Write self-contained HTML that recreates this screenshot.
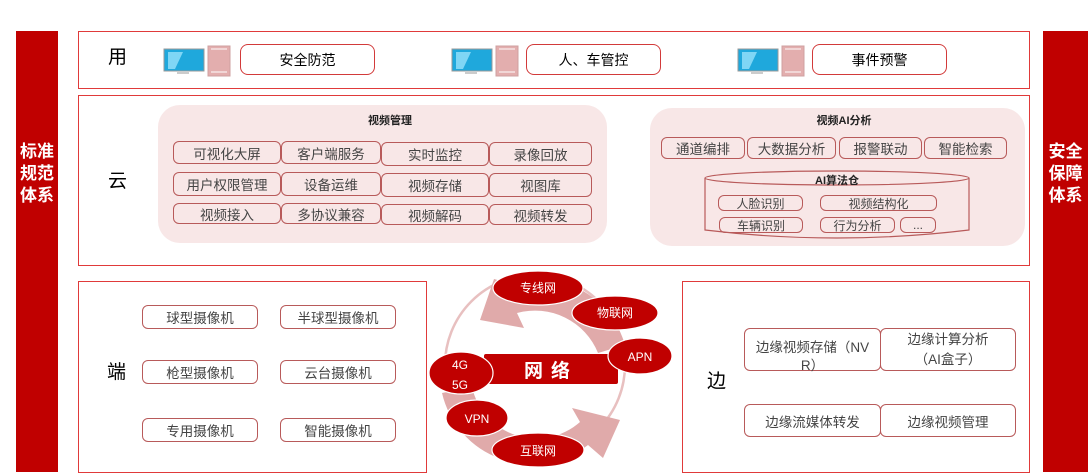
<!DOCTYPE html>
<html><head><meta charset="utf-8">
<style>
*{margin:0;padding:0;box-sizing:border-box}
body{width:1091px;height:476px;background:#fff;position:relative;overflow:hidden;font-family:"Liberation Sans","Noto Sans CJK SC",sans-serif;color:#333}
.a{position:absolute}
.bar{background:#c00000;color:#fff;font-weight:bold;font-size:17px;line-height:22px;text-align:center;padding-top:110px}
.sec{border:1.5px solid #e03a3a}
.lbl{font-size:19px;color:#000}
.btn{border:1.3px solid #d23a3a;border-radius:8px;background:#fff;display:flex;align-items:center;justify-content:center;font-size:14px;color:#000}
.c{border:1.2px solid #b85a5a;border-radius:6px;display:flex;align-items:center;justify-content:center;font-size:13.5px;color:#444;background:transparent}
.s{font-size:12px}
.panel{background:#f8e7e7;border-radius:22px}
.t{font-size:11px;font-weight:bold;color:#222;text-align:center}
</style></head><body>
<div class="a bar" style="left:16px;top:31px;width:42px;height:441px">标准<br>规范<br>体系</div>
<div class="a bar" style="left:1043px;top:31px;width:45px;height:441px">安全<br>保障<br>体系</div>

<!-- 用 -->
<div class="a sec" style="left:78px;top:31px;width:952px;height:58px"></div>
<div class="a lbl" style="left:108px;top:42px">用</div>
<svg class="a" style="left:163px;top:45px" width="70" height="32">
<rect x="1" y="4" width="40" height="22" fill="#1fa8dc" stroke="#999"/><polygon points="5,7 20,7 12,24 5,24" fill="#7fd6f5"/><rect x="14" y="26" width="12" height="3" fill="#ccc"/>
<rect x="45" y="1" width="22" height="30" fill="#e3aeae" stroke="#cfa0a0"/><line x1="48" y1="4" x2="64" y2="4" stroke="#fff"/><line x1="48" y1="27" x2="64" y2="27" stroke="#fff"/></svg>
<div class="a btn" style="left:240px;top:44px;width:135px;height:31px">安全防范</div>
<svg class="a" style="left:451px;top:45px" width="70" height="32">
<rect x="1" y="4" width="40" height="22" fill="#1fa8dc" stroke="#999"/><polygon points="5,7 20,7 12,24 5,24" fill="#7fd6f5"/><rect x="14" y="26" width="12" height="3" fill="#ccc"/>
<rect x="45" y="1" width="22" height="30" fill="#e3aeae" stroke="#cfa0a0"/><line x1="48" y1="4" x2="64" y2="4" stroke="#fff"/><line x1="48" y1="27" x2="64" y2="27" stroke="#fff"/></svg>
<div class="a btn" style="left:526px;top:44px;width:135px;height:31px">人、车管控</div>
<svg class="a" style="left:737px;top:45px" width="70" height="32">
<rect x="1" y="4" width="40" height="22" fill="#1fa8dc" stroke="#999"/><polygon points="5,7 20,7 12,24 5,24" fill="#7fd6f5"/><rect x="14" y="26" width="12" height="3" fill="#ccc"/>
<rect x="45" y="1" width="22" height="30" fill="#e3aeae" stroke="#cfa0a0"/><line x1="48" y1="4" x2="64" y2="4" stroke="#fff"/><line x1="48" y1="27" x2="64" y2="27" stroke="#fff"/></svg>
<div class="a btn" style="left:812px;top:44px;width:135px;height:31px">事件预警</div>

<!-- 云 -->
<div class="a sec" style="left:78px;top:95px;width:952px;height:171px"></div>
<div class="a lbl" style="left:108px;top:166px">云</div>
<div class="a panel" style="left:158px;top:105px;width:449px;height:138px"></div>
<div class="a t" style="left:340px;top:112px;width:100px">视频管理</div>
<div class="a c" style="left:173px;top:141px;width:108px;height:23px">可视化大屏</div>
<div class="a c" style="left:281px;top:141px;width:100px;height:23px">客户端服务</div>
<div class="a c" style="left:381px;top:142px;width:108px;height:24px">实时监控</div>
<div class="a c" style="left:489px;top:142px;width:103px;height:24px">录像回放</div>
<div class="a c" style="left:173px;top:172px;width:108px;height:24px">用户权限管理</div>
<div class="a c" style="left:281px;top:172px;width:100px;height:24px">设备运维</div>
<div class="a c" style="left:381px;top:173px;width:108px;height:24px">视频存储</div>
<div class="a c" style="left:489px;top:173px;width:103px;height:24px">视图库</div>
<div class="a c" style="left:173px;top:203px;width:108px;height:21px">视频接入</div>
<div class="a c" style="left:281px;top:203px;width:100px;height:21px">多协议兼容</div>
<div class="a c" style="left:381px;top:204px;width:108px;height:21px">视频解码</div>
<div class="a c" style="left:489px;top:204px;width:103px;height:21px">视频转发</div>

<div class="a panel" style="left:650px;top:108px;width:375px;height:138px"></div>
<div class="a t" style="left:794px;top:112px;width:100px">视频AI分析</div>
<div class="a c" style="left:661px;top:137px;width:84px;height:22px">通道编排</div>
<div class="a c" style="left:747px;top:137px;width:89px;height:22px">大数据分析</div>
<div class="a c" style="left:839px;top:137px;width:83px;height:22px">报警联动</div>
<div class="a c" style="left:924px;top:137px;width:83px;height:22px">智能检索</div>
<svg class="a" style="left:703px;top:168px" width="270" height="76">
<path d="M2,10 L2,62 Q134,78 266,62 L266,10" fill="#f8e7e7" stroke="#b85a5a" stroke-width="1.2"/>
<ellipse cx="134" cy="10" rx="132" ry="7" fill="#f8e7e7" stroke="#b85a5a" stroke-width="1.2"/></svg>
<div class="a t" style="left:787px;top:172px;width:100px">AI算法仓</div>
<div class="a c s" style="left:718px;top:195px;width:85px;height:16px">人脸识别</div>
<div class="a c s" style="left:820px;top:195px;width:117px;height:16px">视频结构化</div>
<div class="a c s" style="left:719px;top:217px;width:84px;height:16px">车辆识别</div>
<div class="a c s" style="left:820px;top:217px;width:75px;height:16px">行为分析</div>
<div class="a c s" style="left:900px;top:217px;width:36px;height:16px">...</div>

<!-- 端 -->
<div class="a sec" style="left:78px;top:281px;width:349px;height:192px"></div>
<div class="a lbl" style="left:107px;top:357px">端</div>
<div class="a c" style="left:142px;top:305px;width:116px;height:24px">球型摄像机</div>
<div class="a c" style="left:280px;top:305px;width:116px;height:24px">半球型摄像机</div>
<div class="a c" style="left:142px;top:360px;width:116px;height:24px">枪型摄像机</div>
<div class="a c" style="left:280px;top:360px;width:116px;height:24px">云台摄像机</div>
<div class="a c" style="left:142px;top:418px;width:116px;height:24px">专用摄像机</div>
<div class="a c" style="left:280px;top:418px;width:116px;height:24px">智能摄像机</div>

<!-- 边 -->
<div class="a sec" style="left:682px;top:281px;width:348px;height:192px"></div>
<div class="a lbl" style="left:707px;top:366px">边</div>
<div class="a c" style="left:744px;top:328px;width:137px;height:43px;line-height:18px;text-align:center;padding-top:10px;align-items:flex-start">边缘视频存储（NV<br>R）</div>
<div class="a c" style="left:880px;top:328px;width:136px;height:43px;line-height:20px;text-align:center">边缘计算分析<br>（AI盒子）</div>
<div class="a c" style="left:744px;top:404px;width:137px;height:33px">边缘流媒体转发</div>
<div class="a c" style="left:880px;top:404px;width:136px;height:33px">边缘视频管理</div>

<!-- 网络 -->
<svg class="a" style="left:420px;top:265px" width="262" height="211">
<circle cx="115" cy="100" r="90" fill="none" stroke="#e8c0c0" stroke-width="2.5"/>
<path d="M205,80 A92,92 0 0 0 88,18 L74,14 L60,55 L104,63 L97,48 A68,68 0 0 1 178,88 Z" fill="#e0aaaa"/>
<path d="M22,128 A92,92 0 0 0 168,180 L183,193 L200,155 L152,143 L160,157 A66,66 0 0 1 52,122 Z" fill="#e0aaaa"/>
<rect x="64" y="89" width="134" height="30" rx="2" fill="#c00000"/>
<text x="131" y="112" text-anchor="middle" fill="#fff" font-size="19" font-weight="bold" letter-spacing="8" font-family="Liberation Sans,Noto Sans CJK SC,sans-serif">网络</text>
<g fill="#c00000" stroke="#fff" stroke-width="1.2">
<ellipse cx="118" cy="23" rx="45" ry="17"/>
<ellipse cx="195" cy="48" rx="43" ry="17"/>
<ellipse cx="220" cy="91" rx="32" ry="18"/>
<ellipse cx="41" cy="108" rx="32" ry="21"/>
<ellipse cx="57" cy="153" rx="31" ry="18"/>
<ellipse cx="118" cy="185" rx="46" ry="17"/>
</g>
<g fill="#fff" font-size="12" text-anchor="middle" font-family="Liberation Sans,Noto Sans CJK SC,sans-serif">
<text x="118" y="27">专线网</text>
<text x="195" y="52">物联网</text>
<text x="220" y="96">APN</text>
<text x="40" y="104">4G</text>
<text x="40" y="124">5G</text>
<text x="57" y="158">VPN</text>
<text x="118" y="190">互联网</text>
</g>
</svg>
</body></html>
